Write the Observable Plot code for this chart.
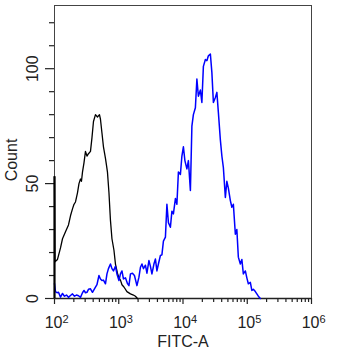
<!DOCTYPE html>
<html>
<head>
<meta charset="utf-8">
<script src="https://cdn.jsdelivr.net/npm/d3@7"></script>
<script src="https://cdn.jsdelivr.net/npm/@observablehq/plot@0.6"></script>
<style>
  html, body { margin: 0; padding: 0; background: #fff; }
  svg { display: block; }
</style>
</head>
<body>
<div id="chart"></div>
<script>
// Black (control) histogram: FITC-A value and count
const blackX = [100, 101.8, 111.3, 124, 133.2, 148.3, 165.1, 177.4, 190.5, 201.1, 212.2, 227.9, 240.4, 253.8, 263, 272.6, 287.6, 303.4, 320.2, 337.9, 363, 383, 404.2, 434.2, 466.4, 501, 519.3, 547.9, 578.1, 621.1, 643.8, 667.3, 704.1, 742.8, 783.8, 842.1, 888.6, 954.5, 1007, 1063, 1122, 1205, 1341, 1521, 1693, 1818, 1954];
const blackY = [53, 16, 17, 22, 26, 29, 32, 36, 39, 41, 42, 46, 50, 52, 51, 55, 59, 64, 62, 63, 64, 70, 77, 80, 79, 80, 78, 72, 66, 61, 58, 55, 46, 34, 26, 21, 15, 11, 9, 8, 6, 5, 3, 2, 1.5, 1, 0];

// Blue (stained) histogram: FITC-A value and count
const blueX = [100, 103.6, 109.4, 115.4, 124, 133.2, 143, 153.7, 165.1, 177.4, 190.5, 204.6, 219.9, 236.2, 253.8, 272.6, 287.6, 303.4, 320.2, 337.9, 363, 389.9, 434.2, 458.1, 492.2, 519.3, 547.9, 578.1, 621.1, 655.4, 691.4, 742.8, 783.8, 827.1, 888.6, 937.6, 1007, 1063, 1122, 1183, 1271, 1366, 1441, 1521, 1634, 1755, 1919, 2062, 2176, 2296, 2422, 2602, 2746, 2949, 3112, 3283, 3527, 3722, 3927, 4143, 4451, 4697, 4957, 5325, 5618, 5930, 6368, 6721, 7090, 7617, 8037, 8482, 9112, 9614, 10144, 10704, 11498, 12134, 13034, 13753, 14510, 15588, 16452, 17358, 18647, 19674, 20762, 22305, 23534, 24831, 26672, 28141, 29710, 31913, 33672, 35527, 38164, 40272, 42490, 45640, 48159, 50816, 54585, 57606, 60782, 65294, 68887, 72685, 78082, 82410, 86958, 93418, 98560, 103990, 111700, 117900, 124400, 133640, 141000, 148800, 159800];
const blueY = [6.5, 3, 2.5, 2.7, 0.6, 2.2, 1, 1.5, 0.5, 1.3, 2, 1, 1.5, 1.2, 0.5, 2.5, 3.5, 2.5, 2.7, 4, 4.2, 2.7, 4.9, 6, 10, 8.5, 7.8, 8, 6.4, 10.7, 13, 15, 13, 12, 14, 10.7, 7.8, 10.7, 12, 8.5, 9, 6.5, 5.6, 10.7, 11, 10, 5.6, 9.3, 13.6, 15, 13, 14.5, 11, 16.5, 14, 10.7, 15, 17.2, 12, 15, 18.7, 19, 25, 26.7, 41, 33, 31, 38, 36.8, 43.5, 41, 55, 54, 62, 66, 60, 56.4, 60, 47, 75, 80, 83, 95.5, 88, 90.7, 85.3, 101, 104, 103.5, 105.6, 106.4, 98.4, 85.3, 87.5, 89.7, 81, 69, 62, 57, 44, 51, 48, 42.6, 39.7, 41, 28, 30, 18, 15, 17, 10.7, 12, 9, 6.4, 7, 3.5, 4, 3, 2, 1, 0];

// Axis ticks and labels
const xMajorTicks = [1e2, 1e3, 1e4, 1e5, 1e6];
const xExponents = ["2", "3", "4", "5", "6"];
const yMajorTicks = [0, 50, 100];
const yMinorTicks = [10, 20, 30, 40, 60, 70, 80, 90, 110, 120];
const xLabel = "FITC-A";
const yLabel = "Count";

const black = blackX.map((x, i) => ({x, y: blackY[i]}));
const blue = blueX.map((x, i) => ({x, y: blueY[i]}));
const xMinorTicks = [];
for (const d of [1e2, 1e3, 1e4, 1e5]) for (let k = 2; k <= 9; k++) xMinorTicks.push(d * k);
const xMajorData = xMajorTicks.map((v, i) => ({v, e: xExponents[i]}));

const font = "Arial, 'Liberation Sans', Helvetica, sans-serif";

const chart = Plot.plot({
  width: 350,
  height: 350,
  marginLeft: 54,
  marginRight: 39,
  marginTop: 5,
  marginBottom: 52,
  style: {fontFamily: font, background: "#fff", color: "#222"},
  x: {type: "log", domain: [100, 1e6], axis: null},
  y: {domain: [0, 127.5], axis: null},
  marks: [
    Plot.frame({stroke: "#444", strokeWidth: 1}),
    Plot.axisX({ticks: xMinorTicks, tickSize: 4, tickFormat: () => "", stroke: "#222", strokeWidth: 1.2, label: null}),
    Plot.axisX({ticks: xMajorTicks, tickSize: 6, tickFormat: () => "", stroke: "#222", strokeWidth: 1.2, label: null}),
    Plot.text(xMajorData, {x: "v", frameAnchor: "bottom", text: () => "10", dx: 8, dy: 29, textAnchor: "end", lineAnchor: "bottom", fontSize: 16, fill: "#222"}),
    Plot.text(xMajorData, {x: "v", frameAnchor: "bottom", text: "e", dx: 8, dy: 24, textAnchor: "start", lineAnchor: "bottom", fontSize: 11, fill: "#222"}),
    Plot.axisY({ticks: yMinorTicks, tickSize: 5, tickFormat: () => "", stroke: "#222", strokeWidth: 1.2, label: null}),
    Plot.axisY({ticks: yMajorTicks, tickSize: 9, tickFormat: () => "", stroke: "#222", strokeWidth: 1.2, label: null}),
    Plot.text(yMajorTicks, {y: d => d, frameAnchor: "left", text: d => String(d), rotate: -90, dx: -22, textAnchor: "middle", lineAnchor: "middle", fontSize: 16, fill: "#222"}),
    Plot.text([xLabel], {frameAnchor: "bottom", dy: 48, textAnchor: "middle", lineAnchor: "bottom", fontSize: 16, fill: "#222"}),
    Plot.text([yLabel], {frameAnchor: "left", dx: -43, dy: 8, rotate: -90, textAnchor: "middle", lineAnchor: "middle", fontSize: 16, fill: "#222"}),
    Plot.ruleY([0], {stroke: "#222", strokeWidth: 1.3}),
    Plot.line(black, {x: "x", y: "y", stroke: "#000", strokeWidth: 1.3}),
    Plot.line(blue, {x: "x", y: "y", stroke: "#0000ff", strokeWidth: 1.5}),
    Plot.ruleX([100], {y1: 0, y2: blackY[0], stroke: "#000", strokeWidth: 2.2})
  ]
});
document.getElementById("chart").appendChild(chart);
</script>
</body>
</html>
